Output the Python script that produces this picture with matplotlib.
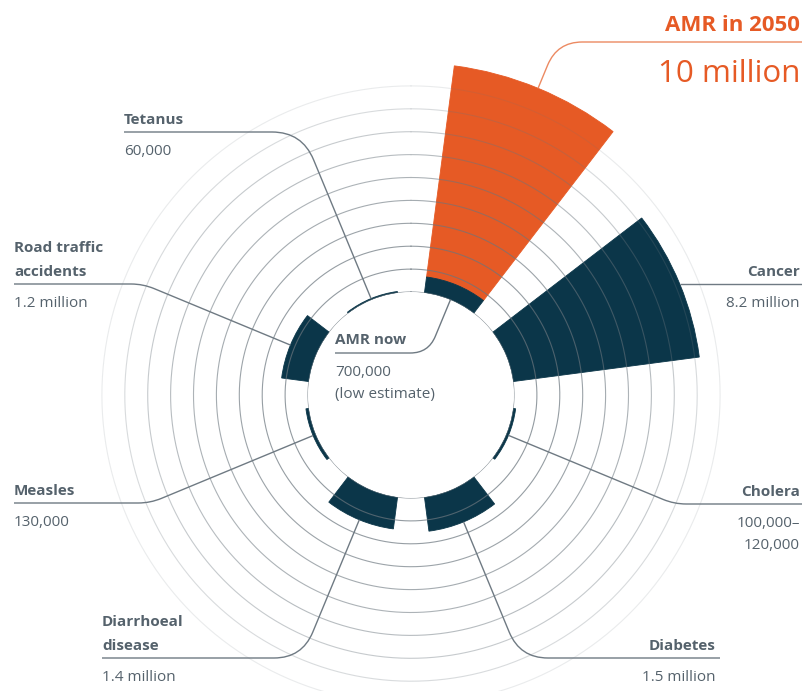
import numpy as np
import matplotlib
matplotlib.use("Agg")
import matplotlib.pyplot as plt
from matplotlib.path import Path
from matplotlib.patches import PathPatch

# data (deaths per year, millions)
categories = ["AMR in 2050", "Cancer", "Cholera", "Diabetes",
              "Diarrhoeal disease", "Measles", "Road traffic accidents", "Tetanus"]
deaths_m = [10.0, 8.2, 0.11, 1.5, 1.4, 0.13, 1.2, 0.06]
amr_now_m = 0.7
value_labels = ["10 million", "8.2 million", "100,000–\n120,000", "1.5 million",
                "1.4 million", "130,000", "1.2 million", "60,000"]
name_labels = ["AMR in 2050", "Cancer", "Cholera", "Diabetes",
               "Diarrhoeal\ndisease", "Measles", "Road traffic\naccidents", "Tetanus"]
ring_levels = list(range(10))

NAVY = "#0b3649"
ORANGE = "#e65a25"
TEXT = "#55626c"
LINE = "#6f7a83"
plt.rcParams["font.family"] = ["Open Sans", "DejaVu Sans"]

W, H = 802, 691
cx, cy = 411, 395          # centre in pixels
r0, k = 103, 22.9          # inner hole radius, px per million
rmax = 10.6
R = r0 + rmax * k

fig = plt.figure(figsize=(W / 100, H / 100), dpi=100)
ax = fig.add_axes([(cx - R) / W, (H - cy - R) / H, 2 * R / W, 2 * R / H],
                  projection="polar")
ax.set_theta_zero_location("N")
ax.set_theta_direction(-1)
ax.set_rorigin(-r0 / k)
ax.set_ylim(0, rmax)
ax.axis("off")

angles = np.radians(22.5 + 45 * np.arange(len(categories)))
width = np.radians(30)

heights = np.array(deaths_m, dtype=float)
bottoms = np.zeros(len(heights))
heights[0] -= amr_now_m
bottoms[0] = amr_now_m
colors = [ORANGE] + [NAVY] * (len(categories) - 1)
ax.bar(angles, heights, width=width, bottom=bottoms, color=colors,
       edgecolor=colors, linewidth=0.6, zorder=2)
ax.bar(angles[0], amr_now_m, width=width, bottom=0, color=NAVY,
       edgecolor=NAVY, linewidth=0.6, zorder=2)

th = np.linspace(0, 2 * np.pi, 600)
ring_alpha = [0.75, 0.72, 0.7, 0.66, 0.6, 0.55, 0.48, 0.38, 0.26, 0.14]
for lvl, a in zip(ring_levels, ring_alpha):
    ax.plot(th, np.full_like(th, lvl), color="#6a757d", lw=0.8, alpha=a, zorder=3)

# overlay in pixel coordinates for leaders and labels
ov = fig.add_axes([0, 0, 1, 1])
ov.set_xlim(0, W)
ov.set_ylim(H, 0)
ov.axis("off")
ov.patch.set_alpha(0)


def leader(ang_deg, r_start, y_line, x_end, color=LINE, d=20):
    a = np.radians(ang_deg)
    ux, uy = np.sin(a), -np.cos(a)
    sx, sy = cx + ux * r_start, cy + uy * r_start
    t = (y_line - cy) / uy
    kx, ky = cx + ux * t, y_line
    L = np.hypot(kx - sx, ky - sy)
    if L < 2:
        verts = [(sx, y_line), (x_end, y_line)]
        codes = [Path.MOVETO, Path.LINETO]
    else:
        dd = min(d, L)
        vx, vy = (kx - sx) / L, (ky - sy) / L
        h = np.sign(x_end - kx)
        verts = [(sx, sy), (kx - vx * dd, ky - vy * dd), (kx, ky),
                 (kx + h * dd, ky), (x_end, y_line)]
        codes = [Path.MOVETO, Path.LINETO, Path.CURVE3, Path.CURVE3, Path.LINETO]
    ov.add_patch(PathPatch(Path(verts, codes), fc="none", ec=color, lw=1.0,
                           capstyle="butt"))


def rpx(v):
    return r0 + v * k


# label layout: (line y, line end x, text x, align, leader start radius)
layout = [
    (42, 802, 800, "right", rpx(10.0)),
    (284, 802, 800, "right", rpx(8.2)),
    (504, 802, 800, "right", rpx(0.11)),
    (658, 720, 716, "right", rpx(1.5)),
    (658, 102, 102, "left", rpx(1.4)),
    (503, 14, 14, "left", rpx(0.13)),
    (284, 14, 14, "left", rpx(1.2)),
    (132, 124, 124, "left", rpx(0.06)),
]
rounding = [25, 0, 12, 28, 28, 12, 12, 30]
FS = 11

for i, (yl, xe, tx, ha, rs) in enumerate(layout):
    ang = 22.5 + 45 * i
    if i == 0:
        leader(ang, rs, yl, xe, color="#ec8a62", d=rounding[i])
        ov.text(tx, yl - 11, name_labels[i], ha=ha, va="baseline",
                fontsize=16, fontweight="bold", color=ORANGE)
        ov.text(tx, yl + 40, value_labels[i], ha=ha, va="baseline",
                fontsize=22.5, color=ORANGE)
        continue
    leader(ang, rs, yl, xe, d=rounding[i])
    names = name_labels[i].split("\n")
    for j, nm in enumerate(reversed(names)):
        ov.text(tx, yl - 8 - 24 * j, nm, ha=ha, va="baseline", fontsize=FS,
                fontweight="bold", color=TEXT)
    for j, vl in enumerate(value_labels[i].split("\n")):
        ov.text(tx, yl + 23 + 22 * j, vl, ha=ha, va="baseline", fontsize=FS,
                color=TEXT)

# AMR now label inside the hole
leader(22.5, r0, 353, 335, d=18)
ov.text(335, 344, "AMR now", ha="left", va="baseline", fontsize=FS,
        fontweight="bold", color=TEXT)
ov.text(335, 376, "700,000", ha="left", va="baseline", fontsize=FS, color=TEXT)
ov.text(335, 398, "(low estimate)", ha="left", va="baseline", fontsize=FS,
        color=TEXT)

fig.savefig("out.png", dpi=100)
